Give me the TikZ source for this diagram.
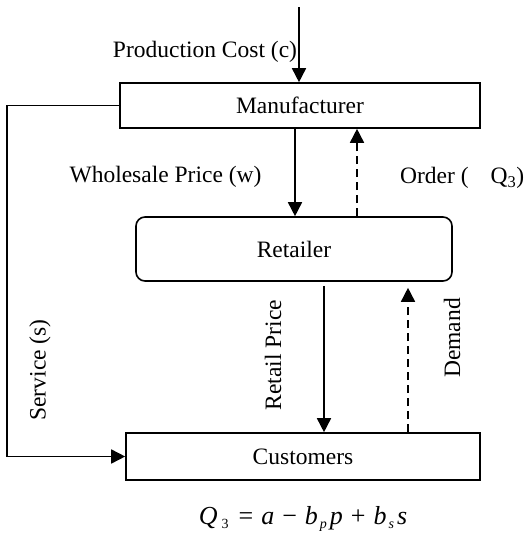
\documentclass[tikz,border=0pt]{standalone}
\usepackage{fontspec}
\setmainfont{Liberation Serif}
\usetikzlibrary{arrows.meta}
\newcommand{\mysub}[1]{\raisebox{-0.4ex}{\fontsize{14}{14}\selectfont #1}}
\begin{document}
\begin{tikzpicture}[x=1pt,y=-1pt,
  every node/.style={font=\fontsize{23.5}{28}\selectfont},
  box/.style={draw,line width=1.6pt,inner sep=0pt},
  lbl/.style={inner sep=0pt},
  arr/.style={line width=1.6pt,-{Triangle[length=14pt,width=14pt]}},
  darr/.style={arr,dash pattern=on 8pt off 5pt}]
\useasboundingbox (0,0) rectangle (528,538);
\node[box,minimum width=360pt,minimum height=45pt] (manu) at (300,105.5) {Manufacturer};
\node[box,rounded corners=9pt,minimum width=316pt,minimum height=64pt] (ret) at (294,249) {Retailer};
\node[box,minimum width=354pt,minimum height=47pt] (cust) at (303,456.5) {Customers};
\coordinate (ptop) at (299,7);
\coordinate (xw) at (295,0);
\coordinate (xo) at (357,0);
\coordinate (xr) at (324,0);
\coordinate (xd) at (408,0);
\draw[arr] (ptop) -- (ptop |- manu.north);
\draw[arr] (xw |- manu.south) -- (xw |- ret.north);
\draw[darr] (xo |- ret.north) -- (xo |- manu.south);
\draw[arr,shorten <=4pt] (xr |- ret.south) -- (xr |- cust.north);
\draw[darr,shorten >=6pt] (xd |- cust.north) -- (xd |- ret.south);
\draw[arr] (manu.west) -- ++(-112.5,0) |- (cust.west);
\node[lbl] (lpc) at (205,52) {Production Cost (c)};
\node[lbl] (lw) at (165.5,177) {Wholesale Price (w)};
\node[lbl,anchor=west] (lo) at (400,178) {Order (\hspace{22pt}Q\textsubscript{3})};
\node[lbl,rotate=90] (ls) at (40,370) {Service (s)};
\node[lbl,rotate=90] (lr) at (273,355) {Retail Price};
\node[lbl,rotate=90] (ld) at (452,338) {Demand};
\node[lbl,font=\fontsize{26}{30}\selectfont] (eq) at (303,519) {\itshape Q\hspace{4pt}\mysub{\upshape 3}\hspace{10pt}\upshape=\hspace{8pt}\itshape a\hspace{8pt}\upshape−\hspace{8pt}\itshape b\hspace{2pt}\mysub{p}\hspace{3pt}p\hspace{8pt}\upshape+\hspace{8pt}\itshape b\hspace{2pt}\mysub{s}\hspace{3pt}s};
\end{tikzpicture}
\end{document}
